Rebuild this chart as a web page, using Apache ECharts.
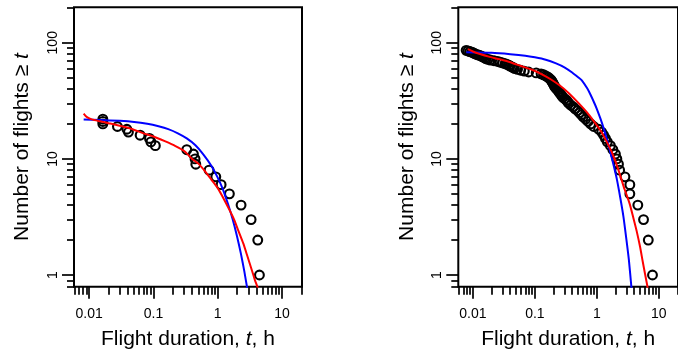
<!DOCTYPE html>
<html>
<head>
<meta charset="utf-8">
<script src="https://cdn.jsdelivr.net/npm/echarts@6/dist/echarts.min.js"></script>
<style>html,body{margin:0;padding:0;background:#fff}#c{width:678px;height:364px}</style>
</head>
<body>
<div id="c"></div>
<script>
// ---- Data ----
// Left panel: observed flights (duration h, number of flights >= t)
const tLeft = [0.0163,0.0163,0.0163,0.0275,0.0386,0.0408,0.062,0.0867,0.0912,0.107,0.330,0.419,0.444,0.456,0.734,0.934,1.13,1.52,2.31,3.31,4.2,4.46];
const nLeft = [22,21,20,19,18,17,16,15,14,13,12,11,10,9,8,7,6,5,4,3,2,1];
// Left panel fitted curves
const blueLeftT = [0.0082,0.015,0.03,0.05,0.08,0.12,0.17,0.24,0.33,0.45,0.6,0.8,1.0,1.2,1.45,1.7,2.0,2.3,2.6,2.9,3.1];
const blueLeftN = [21.8,21.6,21.25,20.8,20.05,19.1,18.05,16.6,15.0,13.1,10.9,8.7,6.9,5.5,4.07,3.05,2.15,1.52,1.07,0.75,0.6];
const redLeftT = [0.0082,0.0088,0.0097,0.011,0.014,0.02,0.03,0.045,0.07,0.1,0.15,0.22,0.3,0.4,0.5,0.65,0.8,1.0,1.25,1.5,1.8,2.1,2.5,2.9,3.4,3.8,4.15,4.4];
const redLeftN = [24.5,23.4,22.5,21.9,21.2,20.3,19.3,18.2,16.6,15.6,14.2,12.9,11.7,10.0,9.1,7.7,6.6,5.6,4.5,3.7,3.0,2.4,1.87,1.45,1.1,0.9,0.79,0.7];

// Right panel: observed flights
const tRight = [0.00776,0.00832,0.00891,0.00955,0.0100,0.0105,0.0110,0.0117,0.0126,0.0135,
  0.0141,0.0148,0.0155,0.0162,0.0174,0.0191,0.0219,0.0251,0.0275,0.0302,
  0.0331,0.0355,0.0380,0.0398,0.0427,0.0447,0.0468,0.0525,0.0589,0.0676,
  0.0794,0.105,0.126,0.138,0.148,0.158,0.166,0.174,0.182,0.186,
  0.191,0.195,0.200,0.204,0.209,0.216,0.224,0.234,0.245,0.251,
  0.263,0.272,0.282,0.302,0.324,0.339,0.355,0.380,0.417,0.447,
  0.490,0.525,0.562,0.603,0.661,0.724,0.794,0.891,1.07,1.20,
  1.29,1.38,1.48,1.66,1.82,2.00,2.11,2.24,2.34,2.85,
  3.42,3.42,4.60,5.69,6.79,7.94];
const nRight = [86,85,84,83,82,81,80,79,78,77,76,75,74,73,72,71,70,69,68,67,66,65,64,63,62,61,60,59,58,57,
  56,55,54,53,52,51,50,49,48,47,46,45,44,43,42,41,40,39,38,37,36,35,34,33,32,31,30,29,28,27,
  26,25,24,23,22,21,20,19,18,17,16,15,14,13,12,11,10,9,8,7,6,5,4,3,2,1];
// Right panel fitted curves
const blueRightT = [0.0078,0.02,0.04,0.07,0.1,0.15,0.22,0.3,0.4,0.5,0.573,0.7,0.8,0.92,1.0,1.15,1.32,1.5,1.67,1.9,2.12,2.4,2.69,3.0,3.3,3.62,3.9];
const blueRightN = [83,82,79.8,77.4,75,71.5,66.5,61.5,55.5,50.5,47.5,40.5,35.3,30,27,22.1,17.7,14,11.2,8.5,6.6,4.6,3.2,2.05,1.35,0.79,0.5];
const redRightT = [0.0083,0.01,0.013,0.018,0.027,0.04,0.06,0.09,0.13,0.18,0.25,0.35,0.5,0.7,0.9,1.17,1.45,1.75,2.05,2.39,2.8,3.4,3.9,4.4,5.0,5.5,6.0,6.6,7.0];
const redRightN = [88,84,80,76,72,68,63,58.5,53.5,48.5,43,37,30.5,25,21,17.3,14,11.4,9.2,7.2,5.5,4.1,3.1,2.4,1.75,1.32,1.03,0.79,0.65];

// Axis ticks
const xMajorTicks = [0.01,0.1,1,10];
const xMinorTicks = [0.006,0.007,0.008,0.009,0.02,0.03,0.04,0.05,0.06,0.07,0.08,0.09,0.2,0.3,0.4,0.5,0.6,0.7,0.8,0.9,2,3,4,5,6,7,8,9,20];
const yMajorTicks = [1,10,100];
const yMinorTicks = [0.8,0.9,2,3,4,5,6,7,8,9,20,30,40,50,60,70,80,90,200];
const xRange = [0.0058, 20.5];
const yRange = [0.793, 202];

const xTitle = 'Flight duration, {i|t}, h';
const yTitle = 'Number of flights \u2265 {i|t}';

// ---- Chart ----
const FONT = '"Liberation Sans", Arial, Helvetica, sans-serif';
const zip = (a, b) => a.map((v, i) => [v, b[i]]);
const grids = [
  {left: 74, top: 7.3, width: 228, height: 279.4},
  {left: 458.3, top: 7.3, width: 228, height: 279.4}
];
const tickLine = {color: '#000', width: 1.7};
const nameStyle = {fontFamily: FONT, fontSize: 21, color: '#000', rich: {i: {fontFamily: FONT, fontSize: 21, fontStyle: 'italic', color: '#000'}}};
const xAxes = [], yAxes = [];
grids.forEach((g, gi) => {
  xAxes.push({
    type: 'log', logBase: 10, gridIndex: gi, position: 'bottom', min: xRange[0], max: xRange[1],
    name: xTitle, nameLocation: 'middle', nameGap: 42, nameTextStyle: nameStyle,
    axisLine: {show: false},
    axisTick: {show: true, length: 12, customValues: xMajorTicks, lineStyle: tickLine},
    axisLabel: {show: true, customValues: xMajorTicks, margin: 20, fontFamily: FONT, fontSize: 14, color: '#000', formatter: v => String(v)},
    splitLine: {show: false}, minorTick: {show: false}, minorSplitLine: {show: false}
  });
  xAxes.push({
    type: 'log', logBase: 10, gridIndex: gi, position: 'bottom', offset: 0, min: xRange[0], max: xRange[1],
    axisLine: {show: false},
    axisTick: {show: true, length: 8, customValues: xMinorTicks, lineStyle: tickLine},
    axisLabel: {show: false}, splitLine: {show: false}
  });
  yAxes.push({
    type: 'log', logBase: 10, gridIndex: gi, position: 'left', min: yRange[0], max: yRange[1],
    name: yTitle, nameLocation: 'middle', nameGap: 41, nameRotate: 90, nameTextStyle: nameStyle,
    axisLine: {show: false},
    axisTick: {show: true, length: 12, customValues: yMajorTicks, lineStyle: tickLine},
    axisLabel: {show: true, customValues: yMajorTicks, rotate: 90, margin: 14, fontFamily: FONT, fontSize: 14, color: '#000', formatter: v => String(v)},
    splitLine: {show: false}
  });
  yAxes.push({
    type: 'log', logBase: 10, gridIndex: gi, position: 'left', offset: 0, min: yRange[0], max: yRange[1],
    axisLine: {show: false},
    axisTick: {show: true, length: 7, customValues: yMinorTicks, lineStyle: tickLine},
    axisLabel: {show: false}, splitLine: {show: false}
  });
});

const scatterStyle = {color: 'rgba(0,0,0,0)', borderColor: '#000', borderWidth: 2.1, opacity: 1};
function panelSeries(gi, t, n, bt, bn, rt, rn) {
  const xi = gi * 2, yi = gi * 2;
  return [
    {type: 'scatter', xAxisIndex: xi, yAxisIndex: yi, data: zip(t, n), symbol: 'circle', symbolSize: 8.8, itemStyle: scatterStyle, silent: true, z: 2},
    {type: 'line', xAxisIndex: xi, yAxisIndex: yi, data: zip(bt, bn), smooth: 0.2, showSymbol: false, lineStyle: {color: '#0000FF', width: 2}, silent: true, z: 3},
    {type: 'line', xAxisIndex: xi, yAxisIndex: yi, data: zip(rt, rn), smooth: 0.2, showSymbol: false, lineStyle: {color: '#FF0000', width: 2}, silent: true, z: 4}
  ];
}

const chart = echarts.init(document.getElementById('c'), null, {renderer: 'canvas'});
chart.setOption({
  animation: false,
  backgroundColor: '#fff',
  grid: grids.map(g => Object.assign({show: true, borderColor: '#000', borderWidth: 2, backgroundColor: 'rgba(0,0,0,0)', containLabel: false}, g)),
  xAxis: xAxes,
  yAxis: yAxes,
  series: [
    ...panelSeries(0, tLeft, nLeft, blueLeftT, blueLeftN, redLeftT, redLeftN),
    ...panelSeries(1, tRight, nRight, blueRightT, blueRightN, redRightT, redRightN)
  ]
});
</script>
</body>
</html>
